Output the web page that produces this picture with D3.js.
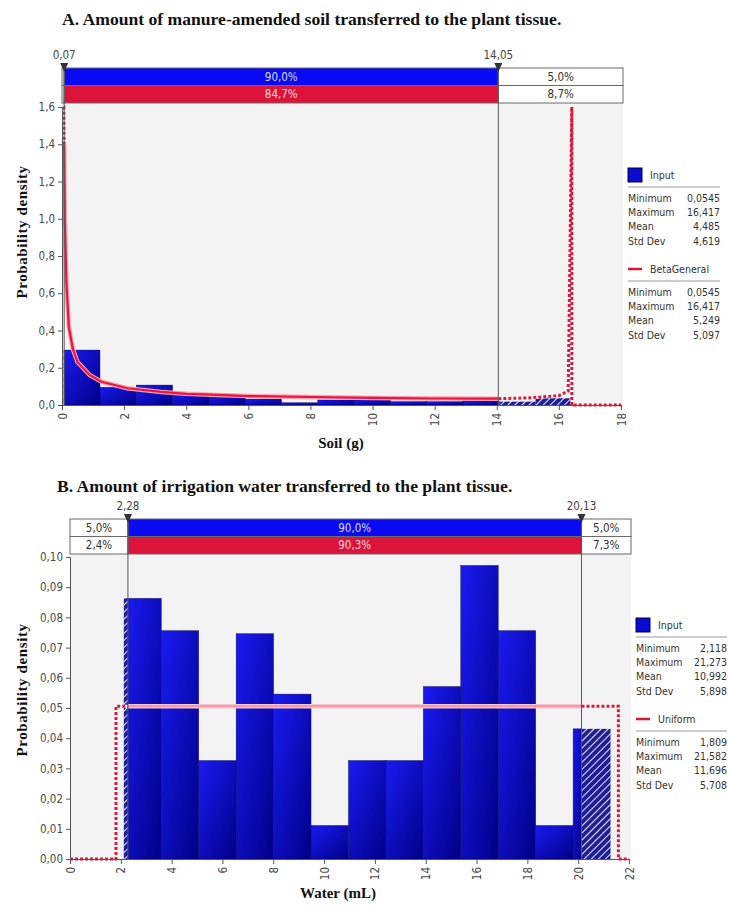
<!DOCTYPE html>
<html><head><meta charset="utf-8">
<script src="https://cdn.jsdelivr.net/npm/d3@7/dist/d3.min.js"></script>
<style>body{margin:0;background:#fff}</style>
</head><body><svg id="c" width="729" height="909"></svg>
<script>
// ---------- Panel A data ----------
const soilTitleBold = "A.";
const soilTitle = " Amount of manure-amended soil transferred to the plant tissue.";
const soilBinEdges = [0.0545,1.223,2.392,3.561,4.730,5.898,7.067,8.236,9.405,10.574,11.743,12.911,14.080,15.249,16.417];
const soilDensity = [0.295,0.095,0.107,0.063,0.058,0.032,0.012,0.027,0.027,0.018,0.018,0.024,0.018,0.036];
const soilCurveX = [0.0545,0.06,0.09,0.14,0.22,0.35,0.5,0.9,1.27,2.1,3.2,4,5,6,8,10,12,14.05,15,16,16.3,16.417,16.417,18];
const soilCurveY = [1.6,1.6,1.0,0.66,0.42,0.30,0.23,0.16,0.125,0.09,0.07,0.06,0.054,0.048,0.043,0.038,0.035,0.034,0.038,0.05,0.075,1.6,0,0];
const soilMarkers = [0.07, 14.05];
const soilMarkerLabels = ["0,07","14,05"];
const soilInputRow = ["", "90,0%", "5,0%"];
const soilFitRow = ["", "84,7%", "8,7%"];
const soilXTicks = [0,2,4,6,8,10,12,14,16,18];
const soilYTicks = [0,0.2,0.4,0.6,0.8,1.0,1.2,1.4,1.6];
const soilInputStats = [["Minimum","0,0545"],["Maximum","16,417"],["Mean","4,485"],["Std Dev","4,619"]];
const soilFitName = "BetaGeneral";
const soilFitStats = [["Minimum","0,0545"],["Maximum","16,417"],["Mean","5,249"],["Std Dev","5,097"]];

// ---------- Panel B data ----------
const waterTitleBold = "B.";
const waterTitle = " Amount of irrigation water transferred to the plant tissue.";
const waterBinEdges = [2.118,3.592,5.065,6.539,8.012,9.486,10.959,12.432,13.906,15.379,16.853,18.326,19.800,21.273];
const waterDensity = [0.0863,0.0756,0.0326,0.0746,0.0546,0.0111,0.0326,0.0326,0.0571,0.0972,0.0756,0.0111,0.0431];
const waterCurveX = [0,1.809,1.809,21.582,21.582,22];
const waterCurveY = [0,0,0.0506,0.0506,0,0];
const waterMarkers = [2.28, 20.13];
const waterMarkerLabels = ["2,28","20,13"];
const waterInputRow = ["5,0%", "90,0%", "5,0%"];
const waterFitRow = ["2,4%", "90,3%", "7,3%"];
const waterXTicks = [0,2,4,6,8,10,12,14,16,18,20,22];
const waterYTicks = [0,0.01,0.02,0.03,0.04,0.05,0.06,0.07,0.08,0.09,0.10];
const waterInputStats = [["Minimum","2,118"],["Maximum","21,273"],["Mean","10,992"],["Std Dev","5,898"]];
const waterFitName = "Uniform";
const waterFitStats = [["Minimum","1,809"],["Maximum","21,582"],["Mean","11,696"],["Std Dev","5,708"]];

const svg = d3.select("#c");
const SANS = "'DejaVu Sans Condensed','Liberation Sans',Arial,sans-serif";
const SERIF = "'Liberation Serif','Times New Roman',serif";

const defs = svg.append("defs");
const g1 = defs.append("linearGradient").attr("id","barGrad").attr("x1",0).attr("y1",0).attr("x2",1).attr("y2",1);
g1.append("stop").attr("offset","0%").attr("stop-color","#1a1af2");
g1.append("stop").attr("offset","100%").attr("stop-color","#000086");
const pat = defs.append("pattern").attr("id","hatch").attr("patternUnits","userSpaceOnUse")
  .attr("width",5).attr("height",5).attr("patternTransform","rotate(45)");
pat.append("rect").attr("width",5).attr("height",5).attr("fill","#1e1e9a");
pat.append("line").attr("x1",0).attr("y1",0).attr("x2",0).attr("y2",5).attr("stroke","#e8e8f4").attr("stroke-width",2);

function fmtComma(f){ return d => d3.format(f)(d).replace(".", ","); }

function drawPanel(o){
  const x = d3.scaleLinear().domain(o.xDomain).range(o.xRange);
  const y = d3.scaleLinear().domain(o.yDomain).range(o.yRange);
  const g = svg.append("g");

  // title
  const t = g.append("text").attr("x", o.titleX).attr("y", o.titleY)
    .attr("font-family", SERIF).attr("font-size", 17.6).attr("font-weight","bold").attr("fill","#111");
  t.append("tspan").text(o.titleBold);
  t.append("tspan").text(o.title);

  // plot background
  const top = o.barTop + 2*o.rowH;
  g.append("rect").attr("x", o.xRange[0]).attr("y", top)
    .attr("width", o.xRange[1]-o.xRange[0]+2).attr("height", o.yRange[0]-top).attr("fill","#f3f3f3");

  // histogram bars (split into tail/middle pieces)
  const [lo, hi] = o.markers;
  o.density.forEach((d,i)=>{
    const a = o.edges[i], b = o.edges[i+1];
    const pieces = [];
    if (a < lo) pieces.push([a, Math.min(b,lo), true]);
    const ma = Math.max(a,lo), mb = Math.min(b,hi);
    if (mb > ma) pieces.push([ma, mb, false]);
    if (b > hi) pieces.push([Math.max(a,hi), b, true]);
    pieces.forEach(p=>{
      g.append("rect").attr("x", x(p[0])).attr("y", y(d))
        .attr("width", Math.max(0, x(p[1])-x(p[0]))).attr("height", y(0)-y(d))
        .attr("fill", p[2] ? "url(#hatch)" : "url(#barGrad)")
        .attr("stroke", p[2] ? "none" : "#00005a").attr("stroke-width", 0.4);
    });
  });

  // fitted curve
  const pts = o.curveX.map((v,i)=>[v, o.curveY[i]]);
  const line = d3.line().x(d=>x(d[0])).y(d=>y(Math.min(d[1], o.yDomain[1])));
  const segs = [];
  for (let i=0;i<pts.length-1;i++){
    const p = pts[i], q = pts[i+1];
    const cuts = [p[0]];
    o.markers.forEach(m=>{ if (m>Math.min(p[0],q[0]) && m<Math.max(p[0],q[0])) cuts.push(m); });
    cuts.push(q[0]);
    cuts.sort((u,v)=>u-v);
    for (let k=0;k<cuts.length-1;k++){
      const interp = xv => p[1] + (q[1]-p[1])*(xv-p[0])/(q[0]-p[0]);
      let s0, s1;
      if (q[0]===p[0]) { s0 = p; s1 = q; }
      else { s0 = [cuts[k], interp(cuts[k])]; s1 = [cuts[k+1], interp(cuts[k+1])]; }
      const mid = (s0[0]+s1[0])/2;
      const tail = mid < lo || mid > hi;
      segs.push({pts:[s0,s1], tail});
    }
  }
  const merged = [];
  segs.forEach(s=>{
    const last = merged[merged.length-1];
    if (last && last.tail===s.tail) last.pts.push(s.pts[1]);
    else merged.push({pts:[s.pts[0], s.pts[1]], tail:s.tail});
  });
  merged.forEach(s=>{
    if (s.tail){
      g.append("path").attr("d", line(s.pts)).attr("fill","none").attr("stroke","#ffffff").attr("stroke-width",3);
      g.append("path").attr("d", line(s.pts)).attr("fill","none").attr("stroke","#e0173c")
        .attr("stroke-width",3).attr("stroke-dasharray","3,2");
    } else {
      g.append("path").attr("d", line(s.pts)).attr("fill","none").attr("stroke", o.curveHalo).attr("stroke-width",4.5);
      g.append("path").attr("d", line(s.pts)).attr("fill","none").attr("stroke", o.curveColor).attr("stroke-width",2.2);
    }
  });

  // top percentage bars
  const bx = [o.xRange[0], x(lo), x(hi), o.xRange[1]+2];
  [[o.inputRow, "#0a0af5", "#dcdcec"], [o.fitRow, "#dc143c", "#f6d8dd"]].forEach((r,ri)=>{
    const yy = o.barTop + ri*o.rowH;
    for (let k=0;k<3;k++){
      const w = bx[k+1]-bx[k];
      g.append("rect").attr("x", bx[k]).attr("y", yy).attr("width", w).attr("height", o.rowH)
        .attr("fill", k===1 ? r[1] : "#ffffff").attr("stroke","#6a6a6a").attr("stroke-width",1);
      if (r[0][k] && w > 20)
        g.append("text").attr("x", bx[k]+w/2).attr("y", yy+o.rowH/2).attr("dy","0.36em")
          .attr("text-anchor","middle").attr("font-family",SANS).attr("font-size",11.5)
          .attr("fill", k===1 ? r[2] : "#333").text(r[0][k]);
    }
  });

  // marker lines, triangles, labels
  o.markers.forEach((m,i)=>{
    const mx = x(m);
    g.append("line").attr("x1",mx).attr("x2",mx).attr("y1",o.barTop).attr("y2",o.yRange[0])
      .attr("stroke","#5a5a5a").attr("stroke-width",1);
    g.append("path").attr("d", `M${mx-4},${o.barTop-5}L${mx+4},${o.barTop-5}L${mx},${o.barTop+4}Z`).attr("fill","#333");
    g.append("text").attr("x", mx).attr("y", o.barTop-9).attr("text-anchor","middle")
      .attr("font-family",SANS).attr("font-size",11.5).attr("fill","#444").text(o.markerLabels[i]);
  });

  // axes
  const ya = g.append("g").attr("transform",`translate(${o.xRange[0]},0)`)
    .call(d3.axisLeft(y).tickValues(o.yTicks).tickFormat(fmtComma(o.yFmt)).tickSizeOuter(0).tickSize(4));
  ya.select(".domain").attr("stroke","#555");
  ya.selectAll(".tick line").attr("stroke","#555");
  ya.selectAll("text").attr("font-family",SANS).attr("font-size",11.5).attr("fill","#4a4a4a");

  const xa = g.append("g").attr("transform",`translate(0,${o.yRange[0]})`)
    .call(d3.axisBottom(x).tickValues(o.xTicks).tickFormat(d=>d).tickSizeOuter(0).tickSize(5));
  xa.select(".domain").attr("stroke","#555");
  xa.selectAll(".tick line").attr("stroke","#555");
  xa.selectAll("text").attr("font-family",SANS).attr("font-size",11.5).attr("fill","#4a4a4a")
    .attr("transform","rotate(-90)").attr("text-anchor","end").attr("x",-8).attr("y",0).attr("dy","0.35em");

  // axis titles
  g.append("text").attr("transform",`translate(${o.yTitleX},${o.yTitleY}) rotate(-90)`)
    .attr("text-anchor","middle").attr("font-family",SERIF).attr("font-weight","bold")
    .attr("font-size",15).attr("letter-spacing",0.6).attr("fill","#111").text("Probability density");
  g.append("text").attr("x", o.xTitleX).attr("y", o.xTitleY).attr("text-anchor","middle")
    .attr("font-family",SERIF).attr("font-weight","bold").attr("font-size",15).attr("fill","#111").text(o.xTitle);

  // legend
  const L = o.legend;
  g.append("rect").attr("x",L.x).attr("y",L.y-7).attr("width",14).attr("height",14)
    .attr("fill","#0a0ad0").attr("stroke","#000050");
  g.append("text").attr("x",L.x+22).attr("y",L.y).attr("dy","0.35em").attr("font-family",SANS)
    .attr("font-size",10.5).attr("fill","#333").text("Input");
  g.append("line").attr("x1",L.x).attr("x2",L.right).attr("y1",L.y+12).attr("y2",L.y+12).attr("stroke","#999");
  o.inputStats.forEach((s,i)=>{
    const yy = L.y+23+i*L.dy;
    g.append("text").attr("x",L.x).attr("y",yy).attr("dy","0.35em").attr("font-family",SANS).attr("font-size",10.5).attr("fill","#333").text(s[0]);
    g.append("text").attr("x",L.right).attr("y",yy).attr("dy","0.35em").attr("text-anchor","end").attr("font-family",SANS).attr("font-size",10.5).attr("fill","#333").text(s[1]);
  });
  const y2 = L.y + L.gap;
  g.append("line").attr("x1",L.x).attr("x2",L.x+14).attr("y1",y2).attr("y2",y2).attr("stroke","#dc143c").attr("stroke-width",2.5);
  g.append("text").attr("x",L.x+22).attr("y",y2).attr("dy","0.35em").attr("font-family",SANS)
    .attr("font-size",10.5).attr("fill","#333").text(o.fitName);
  g.append("line").attr("x1",L.x).attr("x2",L.right).attr("y1",y2+12).attr("y2",y2+12).attr("stroke","#999");
  o.fitStats.forEach((s,i)=>{
    const yy = y2+23+i*L.dy;
    g.append("text").attr("x",L.x).attr("y",yy).attr("dy","0.35em").attr("font-family",SANS).attr("font-size",10.5).attr("fill","#333").text(s[0]);
    g.append("text").attr("x",L.right).attr("y",yy).attr("dy","0.35em").attr("text-anchor","end").attr("font-family",SANS).attr("font-size",10.5).attr("fill","#333").text(s[1]);
  });
}

drawPanel({
  titleBold: soilTitleBold, title: soilTitle, titleX: 62, titleY: 25,
  xDomain:[0,18], xRange:[62,621], yDomain:[0,1.6], yRange:[405,107],
  barTop: 68, rowH: 17.5,
  edges: soilBinEdges, density: soilDensity, curveX: soilCurveX, curveY: soilCurveY,
  curveColor:"#e8173c", curveHalo:"#f6a0b0",
  markers: soilMarkers, markerLabels: soilMarkerLabels,
  inputRow: soilInputRow, fitRow: soilFitRow,
  xTicks: soilXTicks, yTicks: soilYTicks, yFmt: ".1f",
  yTitleX: 27, yTitleY: 232, xTitleX: 341, xTitleY: 448, xTitle: "Soil (g)",
  legend: {x: 628, right: 720, y: 175, dy: 14.3, gap: 94},
  inputStats: soilInputStats, fitName: soilFitName, fitStats: soilFitStats
});

drawPanel({
  titleBold: waterTitleBold, title: waterTitle, titleX: 57, titleY: 492,
  xDomain:[0,22], xRange:[70,629], yDomain:[0,0.10], yRange:[859,557],
  barTop: 519, rowH: 17.5,
  edges: waterBinEdges, density: waterDensity, curveX: waterCurveX, curveY: waterCurveY,
  curveColor:"#f39aa6", curveHalo:"#f8c8d0",
  markers: waterMarkers, markerLabels: waterMarkerLabels,
  inputRow: waterInputRow, fitRow: waterFitRow,
  xTicks: waterXTicks, yTicks: waterYTicks, yFmt: ".2f",
  yTitleX: 27, yTitleY: 690, xTitleX: 338, xTitleY: 898, xTitle: "Water (mL)",
  legend: {x: 636, right: 727, y: 625, dy: 14.3, gap: 94},
  inputStats: waterInputStats, fitName: waterFitName, fitStats: waterFitStats
});
</script></body></html>
